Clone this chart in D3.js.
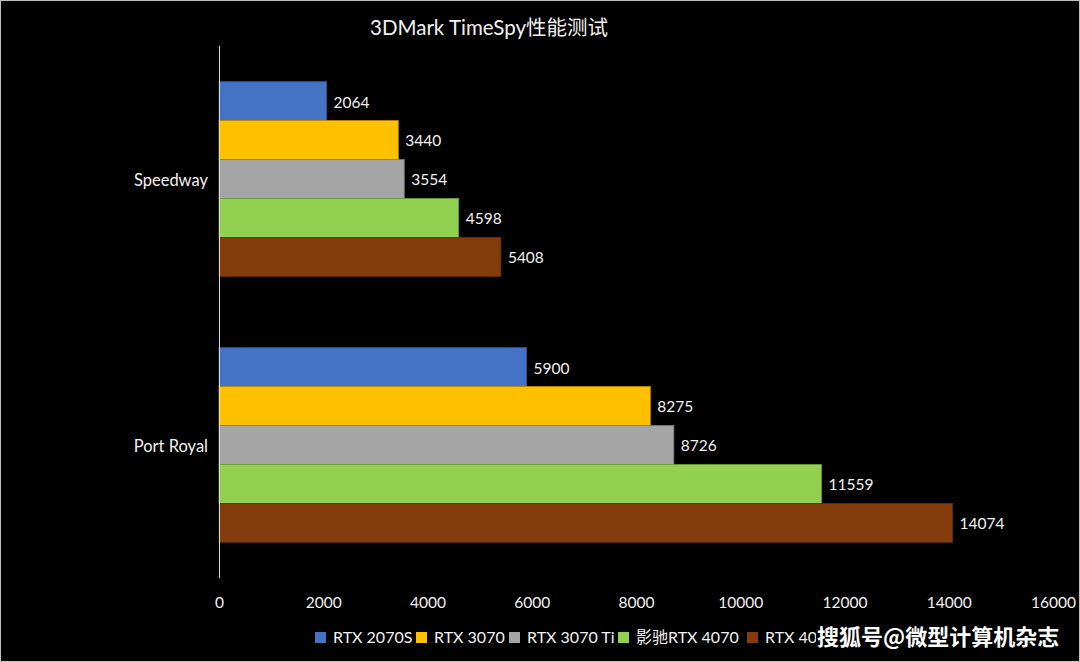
<!DOCTYPE html>
<html><head><meta charset="utf-8">
<script src="https://cdn.jsdelivr.net/npm/d3@7"></script>
<style>
html,body{margin:0;padding:0;background:#000;}
svg{display:block;}
</style></head>
<body>
<svg id="chart" width="1080" height="662"></svg>
<script>
const title = "3DMark TimeSpy性能测试";
const categories = ["Speedway", "Port Royal"];
const seriesNames = ["RTX 2070S", "RTX 3070", "RTX 3070 Ti", "影驰RTX 4070", "RTX 4070 Ti"];
const seriesColors = ["#4472C4", "#FFC000", "#A5A5A5", "#92D050", "#843C0C"];
const speedwayValues = [2064, 3440, 3554, 4598, 5408];
const portRoyalValues = [5900, 8275, 8726, 11559, 14074];
const xTicks = [0, 2000, 4000, 6000, 8000, 10000, 12000, 14000, 16000];
const watermark = "搜狐号@微型计算机杂志";

(function(){
const valuesByCategory = [speedwayValues, portRoyalValues];
const W = 1080, H = 662;
const svg = d3.select("#chart");
const font = "Lato, 'Noto Sans CJK SC', sans-serif";

svg.append("rect").attr("x",0.5).attr("y",0.5).attr("width",W-1).attr("height",H-1)
  .attr("fill","#000").attr("stroke","#BFBFBF").attr("stroke-width",1);

const pLeft = 219, pRight = 1053, pTop = 46, pBottom = 578;
const x = d3.scaleLinear().domain([0, 16000]).range([pLeft, pRight]);
const y0 = d3.scaleBand().domain(categories).range([pTop, pBottom]).paddingInner(0.268).paddingOuter(0.134);
const y1 = d3.scaleBand().domain(seriesNames).range([0, y0.bandwidth()]);

svg.append("text").attr("x", 489).attr("y", 35).attr("text-anchor","middle")
  .attr("fill","#F2F2F2").attr("font-family", font).attr("font-size", 20.5).text(title);

const groups = svg.append("g").selectAll("g").data(categories).join("g")
  .attr("transform", c => `translate(0,${y0(c)})`);

groups.each(function(c, ci){
  const g = d3.select(this);
  const vals = valuesByCategory[ci];
  const data = seriesNames.map((s,i)=>({s, v: vals[i], color: seriesColors[i]}));
  g.selectAll("rect").data(data).join("rect")
    .attr("x", x(0)).attr("y", d => y1(d.s))
    .attr("width", d => x(d.v) - x(0)).attr("height", y1.bandwidth())
    .attr("fill", d => d.color)
    .attr("stroke", d => d3.color(d.color).darker(0.8)).attr("stroke-width", 0.8);
  g.selectAll("text.lbl").data(data).join("text").attr("class","lbl")
    .attr("x", d => x(d.v) + 7).attr("y", d => y1(d.s) + y1.bandwidth()/2 + 1)
    .attr("dy","0.35em").attr("fill","#F2F2F2").attr("font-family", font).attr("font-size", 15.5)
    .text(d => d.v);
});

// category axis
svg.append("line").attr("x1", pLeft+0.5).attr("x2", pLeft+0.5).attr("y1", pTop).attr("y2", pBottom)
  .attr("stroke","#D9D9D9").attr("stroke-width",1);
svg.append("g").selectAll("text").data(categories).join("text")
  .attr("x", 208).attr("y", c => y0(c) + y0.bandwidth()/2 + 1).attr("dy","0.35em")
  .attr("text-anchor","end").attr("fill","#F2F2F2").attr("font-family", font).attr("font-size", 16.5)
  .text(c => c);

// value axis (labels only)
const xAxis = d3.axisBottom(x).tickValues(xTicks).tickSize(0).tickPadding(0).tickFormat(d3.format("d"));
const ax = svg.append("g").attr("transform", `translate(0,${pBottom + 19})`).call(xAxis);
ax.select(".domain").remove();
ax.selectAll("text").attr("fill","#F2F2F2").attr("font-family", font).attr("font-size", 15.5);

// legend
const legendX = [315, 416, 509, 618, 747];
const lg = svg.append("g").selectAll("g").data(seriesNames).join("g")
  .attr("transform", (d,i) => `translate(${legendX[i]},637.5)`);
lg.append("rect").attr("x",0).attr("y",-5.5).attr("width",11).attr("height",11)
  .attr("fill", (d,i) => seriesColors[i]);
lg.append("text").attr("x",18).attr("y",0).attr("dy","0.35em").attr("fill","#F2F2F2")
  .attr("font-family", font).attr("font-size", 16).text(d => d);

// watermark
svg.append("rect").attr("x", 816).attr("y", 620).attr("width", 260).attr("height", 36).attr("fill","#000");
svg.append("text").attr("x", 817).attr("y", 645).attr("fill","#FFFFFF")
  .attr("font-family","'Noto Sans CJK SC', sans-serif").attr("font-weight","bold").attr("font-size", 22)
  .text(watermark);
})();
</script>
</body></html>
